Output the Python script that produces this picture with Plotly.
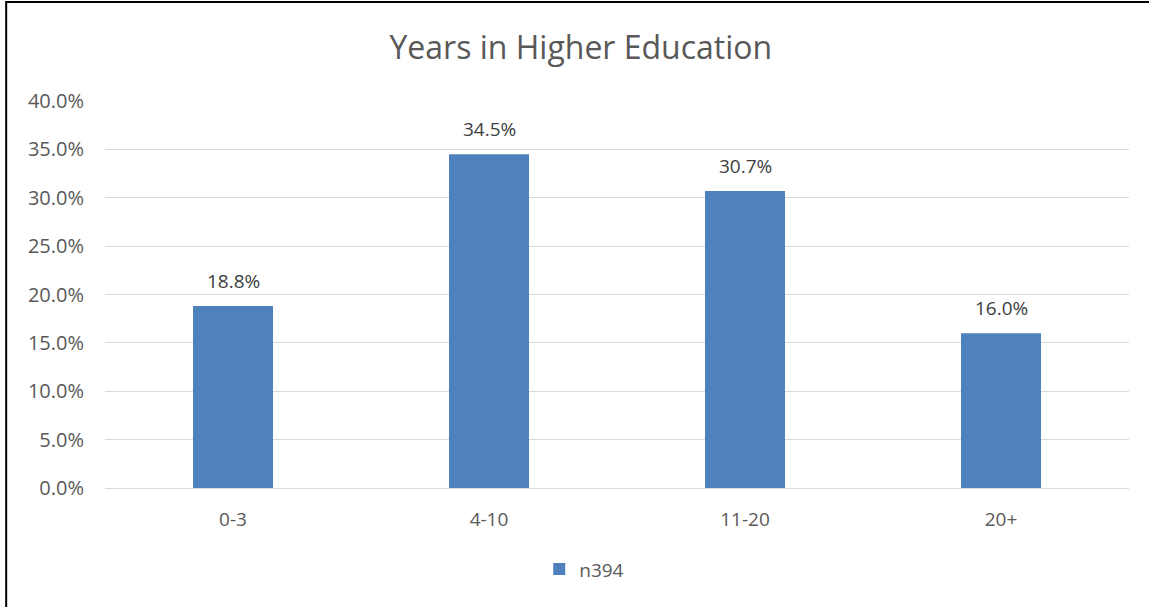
import plotly.graph_objects as go

categories = ["0-3", "4-10", "11-20", "20+"]
shares = [0.188, 0.345, 0.307, 0.160]
series_name = "n394"
y_ticks = [0.0, 0.05, 0.10, 0.15, 0.20, 0.25, 0.30, 0.35, 0.40]

TEXT = "#595959"
FONT = "Open Sans"

fig = go.Figure(
    go.Bar(
        x=categories,
        y=shares,
        name=series_name,
        marker=dict(color="#4F81BD", line=dict(width=0)),
        width=0.3125,
        showlegend=True,
    )
)

# value labels sitting above each bar
for cat, v in zip(categories, shares):
    fig.add_annotation(
        x=cat,
        y=v,
        text=f"{v:.1%}",
        showarrow=False,
        yanchor="bottom",
        yshift=10,
        font=dict(family=FONT, size=19, color="#404040"),
    )

fig.update_layout(
    width=1149,
    height=607,
    margin=dict(l=105, r=20, t=101, b=119),
    paper_bgcolor="white",
    plot_bgcolor="white",
    title=dict(
        text="Years in Higher Education",
        x=0.5055,
        xanchor="center",
        y=0.922,
        yanchor="middle",
        font=dict(family=FONT, size=32, color=TEXT),
    ),
    xaxis=dict(
        showgrid=False,
        showline=False,
        ticks="",
        tickfont=dict(family=FONT, size=19, color=TEXT),
        ticklabelstandoff=18,
    ),
    yaxis=dict(
        range=[0, 0.4],
        tickvals=y_ticks,
        tickformat=".1%",
        showgrid=True,
        gridcolor="#D9D9D9",
        gridwidth=1,
        zeroline=True,
        zerolinecolor="#D9D9D9",
        zerolinewidth=1,
        showline=False,
        ticks="",
        tickfont=dict(family=FONT, size=20, color=TEXT),
        ticklabelstandoff=20,
    ),
    legend=dict(
        orientation="h",
        x=0.468,
        xanchor="center",
        y=-0.21,
        yanchor="middle",
        font=dict(family=FONT, size=19, color=TEXT),
        itemwidth=30,
    ),
    shapes=[
        dict(
            type="rect",
            xref="paper",
            yref="paper",
            x0=-0.0965,
            x1=1.2,
            y0=-0.5,
            y1=1.2555,
            line=dict(color="black", width=2),
            fillcolor="rgba(0,0,0,0)",
            layer="above",
        )
    ],
)

fig.write_html("out.html")
